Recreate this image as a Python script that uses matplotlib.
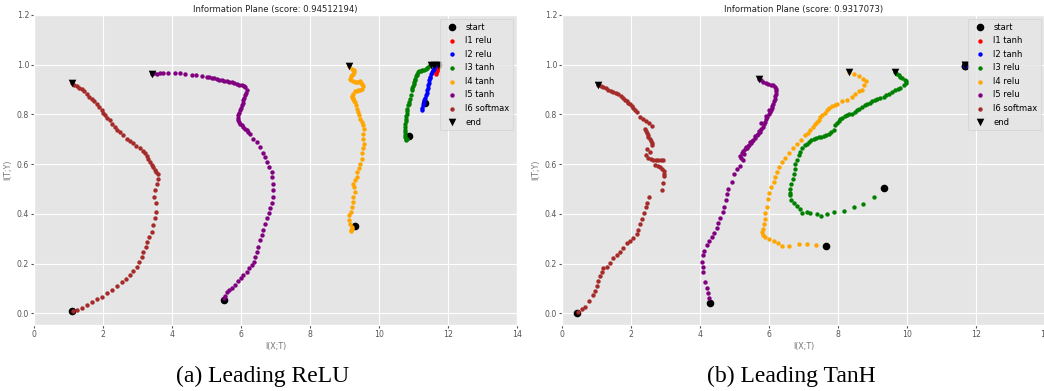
import matplotlib
matplotlib.use("Agg")
import matplotlib.pyplot as plt
import numpy as np

plt.style.use("ggplot")

# ---------------- data: (a) Leading ReLU ----------------
titles = ["Information Plane (score: 0.94512194)", "Information Plane (score: 0.9317073)"]
captions = ["(a) Leading ReLU", "(b) Leading TanH"]
labels_a = ["l1 relu", "l2 relu", "l3 tanh", "l4 tanh", "l5 tanh", "l6 softmax"]
labels_b = ["l1 tanh", "l2 tanh", "l3 relu", "l4 relu", "l5 relu", "l6 softmax"]
layer_colors = ["red", "blue", "green", "orange", "purple", "brown"]
x_ticks = [0, 2, 4, 6, 8, 10, 12, 14]
y_ticks = [0.0, 0.2, 0.4, 0.6, 0.8, 1.0, 1.2]

a_l1 = [(11.65, 0.961), (11.66, 0.968), (11.67, 0.975), (11.68, 0.980), (11.69, 0.984), (11.70, 0.990)]
a_l2 = [(11.24, 0.816), (11.25, 0.826), (11.27, 0.837), (11.29, 0.847), (11.31, 0.857), (11.34, 0.867),
        (11.36, 0.877), (11.38, 0.887), (11.39, 0.897), (11.41, 0.907), (11.42, 0.917), (11.44, 0.927),
        (11.45, 0.937), (11.47, 0.945), (11.48, 0.952), (11.51, 0.961), (11.53, 0.970), (11.56, 0.977),
        (11.58, 0.983), (11.60, 0.988), (11.62, 0.993)]
a_l3 = [(10.82, 0.703), (10.77, 0.700), (10.78, 0.696), (10.75, 0.709), (10.76, 0.719), (10.75, 0.729),
        (10.75, 0.739), (10.74, 0.749), (10.76, 0.763), (10.77, 0.773), (10.78, 0.783), (10.79, 0.793),
        (10.80, 0.803), (10.81, 0.812), (10.82, 0.821), (10.85, 0.837), (10.86, 0.843), (10.88, 0.850),
        (10.90, 0.863), (10.92, 0.877), (10.95, 0.897), (10.96, 0.905), (10.98, 0.914), (11.00, 0.922),
        (11.01, 0.930), (11.03, 0.937), (11.04, 0.944), (11.07, 0.954), (11.09, 0.959), (11.11, 0.964),
        (11.14, 0.969), (11.17, 0.973), (11.21, 0.975), (11.26, 0.977), (11.31, 0.980), (11.36, 0.984),
        (11.40, 0.987), (11.43, 0.990), (11.48, 0.997)]
a_l4 = [(9.13, 0.993), (9.21, 0.984), (9.28, 0.977), (9.27, 0.970), (9.26, 0.964), (9.22, 0.959),
        (9.18, 0.954), (9.16, 0.944), (9.20, 0.938), (9.24, 0.933), (9.30, 0.931), (9.35, 0.930),
        (9.40, 0.932), (9.45, 0.933), (9.49, 0.928), (9.52, 0.924), (9.55, 0.914), (9.50, 0.904),
        (9.45, 0.900), (9.40, 0.897), (9.35, 0.895), (9.30, 0.893), (9.24, 0.884), (9.21, 0.876),
        (9.21, 0.870), (9.24, 0.865), (9.26, 0.861), (9.28, 0.855), (9.30, 0.850), (9.33, 0.837),
        (9.35, 0.823), (9.40, 0.810), (9.43, 0.796), (9.45, 0.783), (9.50, 0.770), (9.55, 0.756),
        (9.57, 0.743), (9.55, 0.723), (9.55, 0.703), (9.57, 0.683), (9.53, 0.663), (9.52, 0.643),
        (9.50, 0.622), (9.45, 0.602), (9.43, 0.585), (9.37, 0.569), (9.35, 0.549), (9.30, 0.535),
        (9.26, 0.522), (9.28, 0.508), (9.30, 0.488), (9.26, 0.468), (9.24, 0.448), (9.21, 0.428),
        (9.18, 0.408), (9.14, 0.395), (9.14, 0.375), (9.16, 0.361), (9.21, 0.348), (9.18, 0.335),
        (9.23, 0.341), (9.20, 0.330)]
a_l5 = [(3.41, 0.964), (3.48, 0.965), (3.56, 0.964), (3.65, 0.966), (3.75, 0.966), (3.89, 0.966),
        (4.09, 0.966), (4.23, 0.966), (4.38, 0.964), (4.57, 0.960), (4.71, 0.957), (4.86, 0.953),
        (5.00, 0.950), (5.08, 0.949), (5.15, 0.948), (5.22, 0.946), (5.29, 0.944), (5.37, 0.940),
        (5.44, 0.937), (5.51, 0.935), (5.58, 0.933), (5.65, 0.931), (5.73, 0.929), (5.80, 0.926),
        (5.87, 0.924), (5.95, 0.920), (6.02, 0.917), (6.08, 0.913), (6.12, 0.910), (6.16, 0.897),
        (6.15, 0.887), (6.12, 0.877), (6.10, 0.867), (6.07, 0.857), (6.05, 0.847), (6.02, 0.837),
        (6.00, 0.827), (5.97, 0.817), (5.95, 0.806), (5.92, 0.796), (5.91, 0.787), (5.90, 0.779),
        (5.93, 0.771), (5.97, 0.763), (6.02, 0.756), (6.07, 0.750), (6.12, 0.743), (6.16, 0.736),
        (6.21, 0.728), (6.26, 0.720), (6.36, 0.703), (6.45, 0.689), (6.55, 0.669), (6.65, 0.643),
        (6.70, 0.629), (6.76, 0.609), (6.82, 0.589), (6.89, 0.569), (6.91, 0.549), (6.94, 0.522),
        (6.94, 0.495), (6.92, 0.468), (6.89, 0.442), (6.84, 0.422), (6.81, 0.402), (6.74, 0.382),
        (6.70, 0.361), (6.65, 0.335), (6.60, 0.315), (6.55, 0.295), (6.50, 0.268), (6.45, 0.248),
        (6.41, 0.228), (6.38, 0.208), (6.31, 0.194), (6.24, 0.181), (6.16, 0.168), (6.07, 0.154),
        (6.00, 0.141), (5.92, 0.132), (5.83, 0.114), (5.73, 0.103), (5.65, 0.094), (5.58, 0.085),
        (5.54, 0.071), (5.52, 0.060)]
a_l6 = [(1.09, 0.926), (1.16, 0.920), (1.24, 0.913), (1.31, 0.908), (1.38, 0.904), (1.45, 0.893),
        (1.53, 0.881), (1.60, 0.872), (1.67, 0.863), (1.74, 0.853), (1.82, 0.843), (1.89, 0.830),
        (1.96, 0.816), (2.01, 0.806), (2.06, 0.796), (2.13, 0.786), (2.20, 0.776), (2.27, 0.762),
        (2.35, 0.749), (2.42, 0.739), (2.49, 0.729), (2.59, 0.716), (2.69, 0.703), (2.78, 0.694),
        (2.88, 0.685), (2.97, 0.674), (3.07, 0.663), (3.15, 0.653), (3.22, 0.643), (3.27, 0.632),
        (3.31, 0.622), (3.36, 0.609), (3.41, 0.596), (3.46, 0.587), (3.51, 0.578), (3.55, 0.570),
        (3.58, 0.562), (3.60, 0.542), (3.56, 0.522), (3.51, 0.495), (3.49, 0.468), (3.54, 0.442),
        (3.54, 0.408), (3.51, 0.382), (3.46, 0.355), (3.41, 0.328), (3.34, 0.308), (3.28, 0.288),
        (3.25, 0.267), (3.17, 0.247), (3.12, 0.227), (3.05, 0.207), (2.98, 0.187), (2.88, 0.170),
        (2.78, 0.154), (2.67, 0.140), (2.54, 0.124), (2.40, 0.110), (2.25, 0.094), (2.11, 0.080),
        (1.96, 0.067), (1.82, 0.056), (1.67, 0.047), (1.53, 0.033), (1.38, 0.022), (1.24, 0.013),
        (1.14, 0.008)]
a_start = [(11.70, 0.997), (11.33, 0.846), (10.88, 0.713), (9.30, 0.352), (5.52, 0.053), (1.11, 0.008)]
a_end = [(11.70, 0.997), (11.60, 0.997), (11.50, 0.997), (9.13, 0.993), (3.41, 0.964), (1.09, 0.926)]

# ---------------- data: (b) Leading TanH ----------------
b_l1 = [(11.67, 0.994), (11.67, 0.995)]
b_l2 = [(11.67, 0.994), (11.67, 0.993)]
b_l3 = [(9.64, 0.970), (9.70, 0.963), (9.76, 0.957), (9.81, 0.952), (9.86, 0.948), (9.95, 0.940),
        (9.97, 0.933), (9.97, 0.926), (9.90, 0.917), (9.81, 0.908), (9.74, 0.902), (9.66, 0.897),
        (9.56, 0.890), (9.47, 0.884), (9.40, 0.877), (9.32, 0.870), (9.22, 0.866), (9.13, 0.863),
        (9.06, 0.858), (8.99, 0.853), (8.92, 0.847), (8.84, 0.841), (8.77, 0.836), (8.70, 0.830),
        (8.62, 0.823), (8.55, 0.816), (8.48, 0.810), (8.41, 0.803), (8.33, 0.800), (8.26, 0.796),
        (8.19, 0.792), (8.12, 0.787), (8.07, 0.781), (8.02, 0.774), (7.97, 0.765), (7.92, 0.756),
        (7.88, 0.736), (7.80, 0.730), (7.73, 0.723), (7.65, 0.717), (7.58, 0.712), (7.51, 0.711),
        (7.44, 0.709), (7.37, 0.706), (7.30, 0.703), (7.22, 0.696), (7.15, 0.689), (7.10, 0.683),
        (7.05, 0.676), (6.96, 0.663), (6.91, 0.649), (6.86, 0.636), (6.81, 0.616), (6.76, 0.602),
        (6.74, 0.582), (6.72, 0.562), (6.69, 0.542), (6.65, 0.522), (6.62, 0.502), (6.62, 0.482),
        (6.62, 0.475), (6.65, 0.455), (6.72, 0.442), (6.81, 0.431), (6.91, 0.418), (6.96, 0.404),
        (7.10, 0.406), (7.20, 0.402), (7.39, 0.398), (7.52, 0.391), (7.68, 0.398), (7.89, 0.407),
        (8.17, 0.412), (8.46, 0.428), (8.72, 0.439), (9.03, 0.466)]
b_l4 = [(8.33, 0.970), (8.45, 0.961), (8.60, 0.953), (8.72, 0.944), (8.81, 0.934), (8.74, 0.917),
        (8.70, 0.900), (8.60, 0.894), (8.50, 0.884), (8.41, 0.870), (8.26, 0.859), (8.12, 0.854),
        (7.97, 0.843), (7.90, 0.838), (7.83, 0.833), (7.75, 0.825), (7.68, 0.816), (7.61, 0.806),
        (7.54, 0.796), (7.49, 0.788), (7.44, 0.779), (7.39, 0.770), (7.34, 0.760), (7.27, 0.748),
        (7.20, 0.736), (7.12, 0.726), (7.05, 0.716), (6.94, 0.699), (6.81, 0.683), (6.69, 0.663),
        (6.57, 0.643), (6.47, 0.626), (6.38, 0.609), (6.28, 0.589), (6.23, 0.569), (6.18, 0.549),
        (6.14, 0.529), (6.07, 0.510), (6.01, 0.482), (5.97, 0.458), (5.94, 0.428), (5.89, 0.402),
        (5.87, 0.381), (5.85, 0.361), (5.83, 0.341), (5.80, 0.328), (5.82, 0.314), (5.89, 0.305),
        (5.99, 0.297), (6.14, 0.292), (6.26, 0.283), (6.38, 0.270), (6.57, 0.270), (6.86, 0.278),
        (7.10, 0.277), (7.36, 0.273)]
b_l5 = [(5.72, 0.944), (5.78, 0.937), (5.84, 0.930), (5.91, 0.925), (5.98, 0.921), (6.05, 0.919),
        (6.13, 0.917), (6.17, 0.910), (6.20, 0.904), (6.20, 0.894), (6.20, 0.884), (6.18, 0.873),
        (6.17, 0.863), (6.15, 0.853), (6.13, 0.843), (6.10, 0.835), (6.08, 0.827), (6.05, 0.818),
        (6.03, 0.810), (5.99, 0.800), (5.95, 0.790), (5.92, 0.780), (5.88, 0.770), (5.85, 0.760),
        (5.82, 0.750), (5.78, 0.740), (5.74, 0.729), (5.69, 0.722), (5.64, 0.716), (5.60, 0.707),
        (5.55, 0.699), (5.51, 0.692), (5.47, 0.685), (5.43, 0.678), (5.40, 0.672), (5.35, 0.666),
        (5.30, 0.660), (5.25, 0.652), (5.21, 0.645), (5.16, 0.632), (5.20, 0.624), (5.24, 0.616),
        (5.78, 0.765), (5.70, 0.735), (5.58, 0.712), (5.45, 0.690), (5.33, 0.671), (5.91, 0.793),
        (6.00, 0.818), (5.27, 0.641), (5.16, 0.592), (5.08, 0.582), (4.99, 0.562), (4.92, 0.529),
        (4.82, 0.502), (4.77, 0.479), (4.74, 0.455), (4.70, 0.428), (4.66, 0.408), (4.58, 0.385),
        (4.53, 0.364), (4.48, 0.345), (4.41, 0.324), (4.34, 0.308), (4.27, 0.292), (4.19, 0.274),
        (4.12, 0.252), (4.08, 0.234), (4.05, 0.207), (4.08, 0.187), (4.10, 0.167), (4.14, 0.127),
        (4.19, 0.100), (4.24, 0.080), (4.27, 0.060)]
b_l6 = [(1.05, 0.917), (1.12, 0.914), (1.20, 0.910), (1.27, 0.905), (1.34, 0.900), (1.41, 0.895),
        (1.49, 0.890), (1.56, 0.885), (1.63, 0.881), (1.70, 0.874), (1.78, 0.867), (1.83, 0.860),
        (1.87, 0.854), (1.92, 0.847), (1.97, 0.841), (2.02, 0.834), (2.07, 0.827), (2.12, 0.818),
        (2.16, 0.810), (2.26, 0.790), (2.36, 0.783), (2.43, 0.774), (2.53, 0.766), (2.60, 0.752),
        (2.41, 0.743), (2.43, 0.734), (2.45, 0.725), (2.48, 0.717), (2.50, 0.709), (2.54, 0.701),
        (2.57, 0.693), (2.60, 0.684), (2.62, 0.676), (2.47, 0.659), (2.55, 0.649), (2.43, 0.636),
        (2.50, 0.626), (2.58, 0.622), (2.65, 0.618), (2.72, 0.618), (2.79, 0.618), (2.87, 0.618),
        (2.94, 0.618), (2.70, 0.598), (2.77, 0.594), (2.84, 0.589), (2.90, 0.581), (2.96, 0.573),
        (2.97, 0.562), (2.97, 0.551), (2.94, 0.525), (2.89, 0.498), (2.53, 0.466), (2.47, 0.444),
        (2.43, 0.426), (2.38, 0.404), (2.31, 0.381), (2.26, 0.359), (2.21, 0.337), (2.16, 0.319),
        (2.07, 0.301), (1.97, 0.292), (1.87, 0.281), (1.78, 0.261), (1.68, 0.248), (1.58, 0.234),
        (1.49, 0.221), (1.39, 0.203), (1.29, 0.187), (1.20, 0.181), (1.15, 0.167), (1.10, 0.150),
        (1.05, 0.131), (1.00, 0.110), (0.96, 0.091), (0.91, 0.074), (0.79, 0.051), (0.67, 0.027),
        (0.57, 0.016), (0.47, 0.007)]
b_start = [(11.67, 0.994), (11.67, 0.994), (9.32, 0.505), (7.65, 0.270), (4.29, 0.043), (0.44, 0.003)]
b_end = [(11.67, 0.997), (11.67, 0.997), (9.64, 0.970), (8.33, 0.970), (5.72, 0.944), (1.05, 0.917)]

panels = [
    (titles[0], captions[0], labels_a, [a_l1, a_l2, a_l3, a_l4, a_l5, a_l6], a_start, a_end),
    (titles[1], captions[1], labels_b, [b_l1, b_l2, b_l3, b_l4, b_l5, b_l6], b_start, b_end),
]

fig = plt.figure(figsize=(10.44, 3.91), dpi=100)
ax_lefts = [34 / 1044, 562 / 1044]
caption_x = [263 / 1044, 791 / 1044]
ax_w = 483 / 1044
ax_b = (391 - 325) / 391
ax_h = (325 - 15) / 391

for i, (title, caption, labels, layers, starts, ends) in enumerate(panels):
    ax = fig.add_axes([ax_lefts[i], ax_b, ax_w, ax_h])
    sx, sy = zip(*starts)
    ax.scatter(sx, sy, s=30, c="black", marker="o", linewidths=0, label="start", zorder=2)
    for pts, lab, col in zip(layers, labels, layer_colors):
        px, py = zip(*pts)
        ax.scatter(px, py, s=10, c=col, marker="o", linewidths=0, label=lab, zorder=2)
    ex, ey = zip(*ends)
    ax.scatter(ex, ey, s=30, c="black", marker="v", linewidths=0, label="end", zorder=3)
    ax.set_xlim(0, 14)
    ax.set_ylim(-0.047, 1.2)
    ax.set_xticks(x_ticks)
    ax.set_yticks(y_ticks)
    ax.set_yticklabels([f"{v:.1f}" for v in y_ticks])
    ax.tick_params(labelsize=5.6, length=2, pad=1.5, colors="#555555")
    ax.set_xlabel("I(X;T)", fontsize=5.8, color="#777777", labelpad=2)
    ax.set_ylabel("I(T;Y)", fontsize=5.8, color="#777777", labelpad=3)
    ax.set_title(title, fontsize=6.1, pad=2.5, color="#222222")
    ax.legend(loc="upper right", fontsize=6, scatterpoints=1, handletextpad=0.6,
              labelspacing=0.55, borderaxespad=0.45, borderpad=0.45)
    fig.text(caption_x[i], 1 - 376 / 391, caption, ha="center", va="center",
             fontsize=17, family="Liberation Serif", color="black")

fig.savefig("out.png", dpi=100)
